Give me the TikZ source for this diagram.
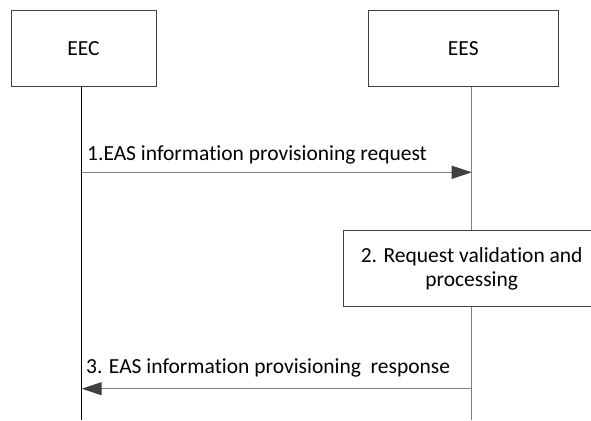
\documentclass[tikz,border=0pt]{standalone}
\usepackage{fontspec}
\setmainfont{Carlito}[Ligatures=NoCommon]
\usepackage{tikz}
\usetikzlibrary{arrows.meta}

\definecolor{linegray}{HTML}{808080}
\definecolor{tipgray}{HTML}{404040}

\tikzset{
  entity/.style={draw=tipgray, line width=0.9pt, minimum height=75.7pt, inner sep=0pt},
  msg/.style={draw=linegray, line width=1.3pt, -{Triangle[length=20pt,width=13pt,fill=tipgray,color=tipgray]}},
  lbl/.style={anchor=base west, inner sep=0pt}
}

\begin{document}
\begin{tikzpicture}[x=1pt,y=-1pt,font=\fontsize{21.5}{24.3}\selectfont]
  \clip (0,0) rectangle (591,420);
  \node[entity, minimum width=145pt] (eec) at (83.5,48.2) {EEC};
  \node[entity, minimum width=190pt] (ees) at (463.3,48.2) {EES};
  \node[entity, minimum width=256pt, align=center] (proc) at (471.7,268.7)
    {2. Request validation and\\processing};
  \coordinate (eecbot) at (81.7,420);
  \coordinate (eesbot) at (471.7,420);
  \coordinate (req1) at (81.7,172.3);
  \coordinate (req2) at (471.7,172.3);
  \coordinate (rsp1) at (81.7,388.7);
  \coordinate (rsp2) at (471.7,388.7);
  \draw[line width=1pt] (eec.south -| eecbot) -- (eecbot);
  \draw[linegray, line width=1.2pt] (ees.south -| eesbot) -- (proc.north -| eesbot);
  \draw[linegray, line width=1.2pt] (proc.south -| eesbot) -- (eesbot);
  \draw[msg] (req1) -- (req2);
  \draw[msg] (rsp2) -- (rsp1);
  \node[lbl] (lreq) at (87,160.7) {1.EAS information provisioning request};
  \node[lbl] (lrsp) at (86,373) {3. EAS information provisioning\ \ response};
\end{tikzpicture}
\end{document}
